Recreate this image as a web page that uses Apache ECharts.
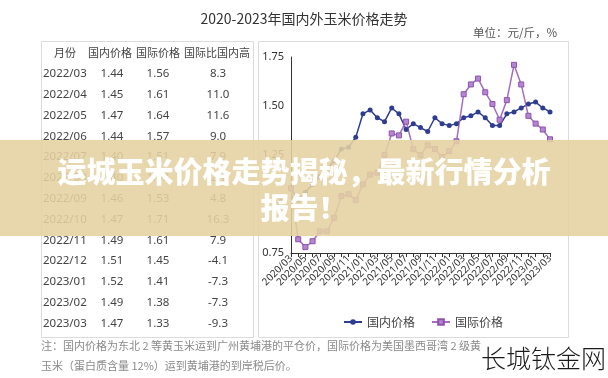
<!DOCTYPE html>
<html><head><meta charset="utf-8">
<script src="https://cdn.jsdelivr.net/npm/echarts@6/dist/echarts.min.js"></script>
<style>html,body{margin:0;padding:0;background:#fff}#c{width:608px;height:378px}</style>
</head><body><div id="c"></div>
<script>
const months = ['2020/03','2020/04','2020/05','2020/06','2020/07','2020/08','2020/09','2020/10','2020/11','2020/12',
  '2021/01','2021/02','2021/03','2021/04','2021/05','2021/06','2021/07','2021/08','2021/09','2021/10','2021/11','2021/12',
  '2022/01','2022/02','2022/03','2022/04','2022/05','2022/06','2022/07','2022/08','2022/09','2022/10','2022/11','2022/12',
  '2023/01','2023/02','2023/03'];
const domestic = [1.08,1.02,1.06,1.10,1.14,1.18,1.22,1.28,1.29,1.34,
  1.46,1.48,1.44,1.42,1.49,1.46,1.38,1.41,1.39,1.37,1.44,1.41,
  1.40,1.41,1.44,1.45,1.47,1.44,1.40,1.40,1.46,1.47,1.49,1.51,
  1.52,1.49,1.47];
const international = [1.08,0.82,0.78,0.81,0.86,0.86,0.93,1.04,1.05,1.02,
  1.10,1.15,1.16,1.25,1.36,1.35,1.42,1.28,1.25,1.30,1.28,1.24,
  1.27,1.32,1.56,1.61,1.64,1.57,1.51,1.43,1.53,1.71,1.61,1.45,
  1.41,1.38,1.33];
const tableMonths = ['2022/03','2022/04','2022/05','2022/06','2022/07','2022/08','2022/09','2022/10','2022/11','2022/12','2023/01','2023/02','2023/03'];
const tableDomestic = ['1.44','1.45','1.47','1.44','1.40','1.40','1.46','1.47','1.49','1.51','1.52','1.49','1.47'];
const tableInternational = ['1.56','1.61','1.64','1.57','1.51','1.43','1.53','1.71','1.61','1.45','1.41','1.38','1.33'];
const tableRatio = ['8.3','11.0','11.6','9.0','7.9','2.1','4.8','16.3','7.9','-4.1','-7.3','-7.3','-9.3'];
const tableHeader = ['月份','国内价格','国际价格','国际比国内高'];
const yMin = 0.75, yMax = 1.75, yStep = 0.25;

const chart = echarts.init(document.getElementById('c'), null, {renderer:'canvas'});
const F = '"Noto Sans", "Noto Sans CJK SC", sans-serif';
const tc = '#444';
const g = [];
g.push({type:'rect', shape:{x:41.5,y:41.5,width:212,height:296}, style:{fill:'none',stroke:'#dcdcdc',lineWidth:1}, z:0});
g.push({type:'rect', shape:{x:258.5,y:41.5,width:310,height:296}, style:{fill:'none',stroke:'#dcdcdc',lineWidth:1}, z:0});
const hx = [65,110,158,217];
tableHeader.forEach((h,i)=>g.push({type:'text', x:hx[i], y:54, style:{text:h, font:'11px '+F, fill:tc, textAlign:'center', textVerticalAlign:'middle'}}));
tableMonths.forEach((m,r)=>{
  const y = 74 + r*20.8;
  g.push({type:'text', x:43, y:y, style:{text:m, font:'11.5px '+F, fill:tc, textAlign:'left', textVerticalAlign:'middle'}});
  g.push({type:'text', x:112, y:y, style:{text:tableDomestic[r], font:'11.5px '+F, fill:tc, textAlign:'center', textVerticalAlign:'middle'}});
  g.push({type:'text', x:158, y:y, style:{text:tableInternational[r], font:'11.5px '+F, fill:tc, textAlign:'center', textVerticalAlign:'middle'}});
  g.push({type:'text', x:218, y:y, style:{text:tableRatio[r], font:'11.5px '+F, fill:tc, textAlign:'center', textVerticalAlign:'middle'}});
});
g.push({type:'text', x:557, y:33, style:{text:'单位：元/斤，%', font:'11.5px "Noto Sans CJK SC", sans-serif', fill:'#555', textAlign:'right', textVerticalAlign:'middle'}});
g.push({type:'text', x:41, y:346, style:{text:'注：国内价格为东北 2 等黄玉米运到广州黄埔港的平仓价，国际价格为美国墨西哥湾 2 级黄', font:'11px "Noto Sans CJK SC", sans-serif', fill:'#8a8a8a', textAlign:'left', textVerticalAlign:'middle'}});
g.push({type:'text', x:41, y:366, style:{text:'玉米（蛋白质含量 12%）运到黄埔港的到岸税后价。', font:'11px "Noto Sans CJK SC", sans-serif', fill:'#8a8a8a', textAlign:'left', textVerticalAlign:'middle'}});
g.push({type:'rect', shape:{x:0,y:140,width:608,height:96}, style:{fill:'rgba(229,209,160,0.88)'}, z:100});
g.push({type:'text', x:304, y:172, style:{text:'运城玉米价格走势揭秘，最新行情分析', font:'900 29px "Noto Sans CJK SC", sans-serif', fill:'#fff', textAlign:'center', textVerticalAlign:'middle'}, z:101});
g.push({type:'text', x:304, y:208, style:{text:'报告！', font:'900 29px "Noto Sans CJK SC", sans-serif', fill:'#fff', textAlign:'center', textVerticalAlign:'middle'}, z:101});
g.push({type:'rect', shape:{x:482,y:340,width:126,height:34}, style:{fill:'#fff'}, z:100});
g.push({type:'text', x:606, y:358, style:{text:'长城钛金网', font:'300 25px "Noto Sans CJK SC", sans-serif', fill:'#1a1a1a', textAlign:'right', textVerticalAlign:'middle'}, z:101});

chart.setOption({
  animation:false,
  backgroundColor:'#fff',
  title:{text:'2020-2023年国内外玉米价格走势', left:'center', top:7, textStyle:{fontFamily:'"Noto Sans CJK SC", sans-serif', fontSize:14, fontWeight:'normal', color:'#333'}},
  legend:{left:338, top:311, itemWidth:18, itemHeight:7, itemGap:16, textStyle:{fontFamily:'"Noto Sans CJK SC", sans-serif', fontSize:12, color:'#444'}, data:['国内价格','国际价格']},
  grid:{left:291, right:58, top:57, bottom:125, containLabel:false},
  xAxis:{type:'category', data:months, boundaryGap:false,
    axisLine:{lineStyle:{color:'#333', width:1}},
    axisTick:{show:true, interval:0, length:4, lineStyle:{color:'#333'}},
    axisLabel:{interval:1, rotate:45, fontSize:10, color:'#333', margin:4, fontFamily:F},
    splitLine:{show:false}},
  yAxis:{type:'value', min:yMin, max:yMax, interval:yStep,
    axisLine:{show:true, lineStyle:{color:'#333', width:1}},
    axisTick:{show:false},
    axisLabel:{color:'#333', fontSize:11, margin:7, fontFamily:F, formatter:v=>v.toFixed(2)},
    splitLine:{show:false}},
  series:[
    {name:'国内价格', type:'line', data:domestic, symbol:'circle', symbolSize:5, showAllSymbol:true,
      lineStyle:{color:'#2e3d91', width:1.5}, itemStyle:{color:'#2e3d91'}},
    {name:'国际价格', type:'line', data:international, symbol:'rect', symbolSize:5, showAllSymbol:true,
      lineStyle:{color:'#a46cc4', width:1.5}, itemStyle:{color:'#b685d2', borderColor:'#8c52ad', borderWidth:1}}
  ],
  graphic:g
});
</script></body></html>
